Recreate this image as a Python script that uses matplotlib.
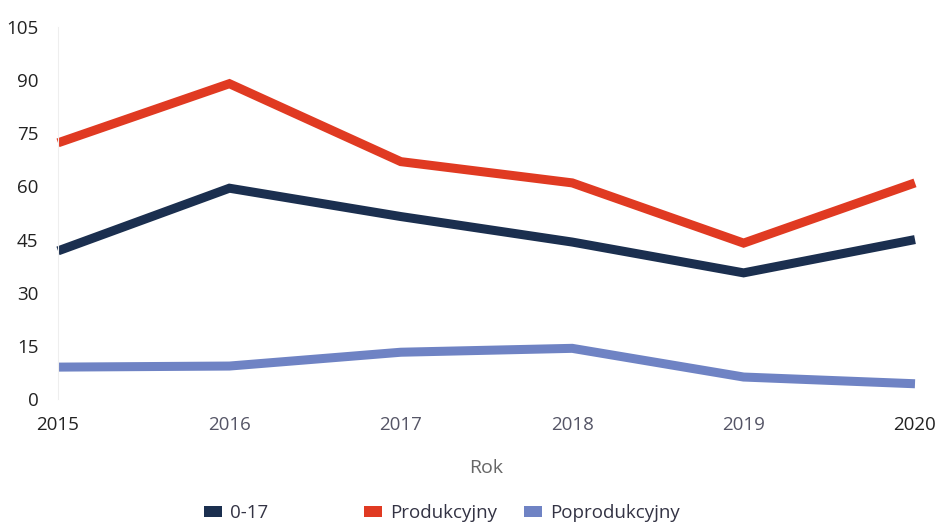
import matplotlib
matplotlib.use("Agg")
import matplotlib.pyplot as plt
from matplotlib.patches import Patch

plt.rcParams['font.family'] = ['Open Sans', 'DejaVu Sans']

years = [2015, 2016, 2017, 2018, 2019, 2020]
age_0_17 = [41.8, 59.5, 51.5, 44.3, 35.6, 45.0]
produkcyjny = [72.3, 89.0, 67.0, 61.0, 44.0, 61.0]
poprodukcyjny = [9.0, 9.3, 13.2, 14.3, 6.2, 4.3]
series_names = ['0-17', 'Produkcyjny', 'Poprodukcyjny']
colors = ['#1b2f4f', '#e03a22', '#6f83c4']
y_ticks = [0, 15, 30, 45, 60, 75, 90, 105]

fig = plt.figure(figsize=(9.38, 5.24), dpi=100)
ax = fig.add_axes([58/938, 1-399/524, (915-58)/938, (399-27)/524])

for vals, c in zip([age_0_17, produkcyjny, poprodukcyjny], colors):
    ax.plot(years, vals, color=c, lw=6.5, solid_joinstyle='miter', solid_capstyle='butt', clip_on=False)

ax.set_xlim(2015, 2020)
ax.set_ylim(0, 105)
ax.set_yticks(y_ticks)
ax.set_xticks(years)
ax.set_xticklabels([str(y) for y in years])
for s in ['top', 'right', 'bottom']:
    ax.spines[s].set_visible(False)
ax.spines['left'].set_color('#eeeeee')
ax.tick_params(length=0, labelsize=13.5)
ax.tick_params(axis='y', pad=14, labelcolor='#222222')
ax.tick_params(axis='x', pad=12)
for i, lab in enumerate(ax.get_xticklabels()):
    lab.set_color('#222222' if i in (0, 5) else '#555566')
ax.set_xlabel('Rok', fontsize=14, color='#666666', labelpad=18)

xs = [198, 358, 518]
for name, c, x in zip(series_names, colors, xs):
    fig.legend(handles=[Patch(facecolor=c)], labels=[name], loc='center left',
               bbox_to_anchor=(x/938 - 0.012, 1-513/524), frameon=False,
               fontsize=13.5, handlelength=1.0, handleheight=0.5, handletextpad=0.4,
               labelcolor='#333344')

fig.savefig('out.png', dpi=100)
